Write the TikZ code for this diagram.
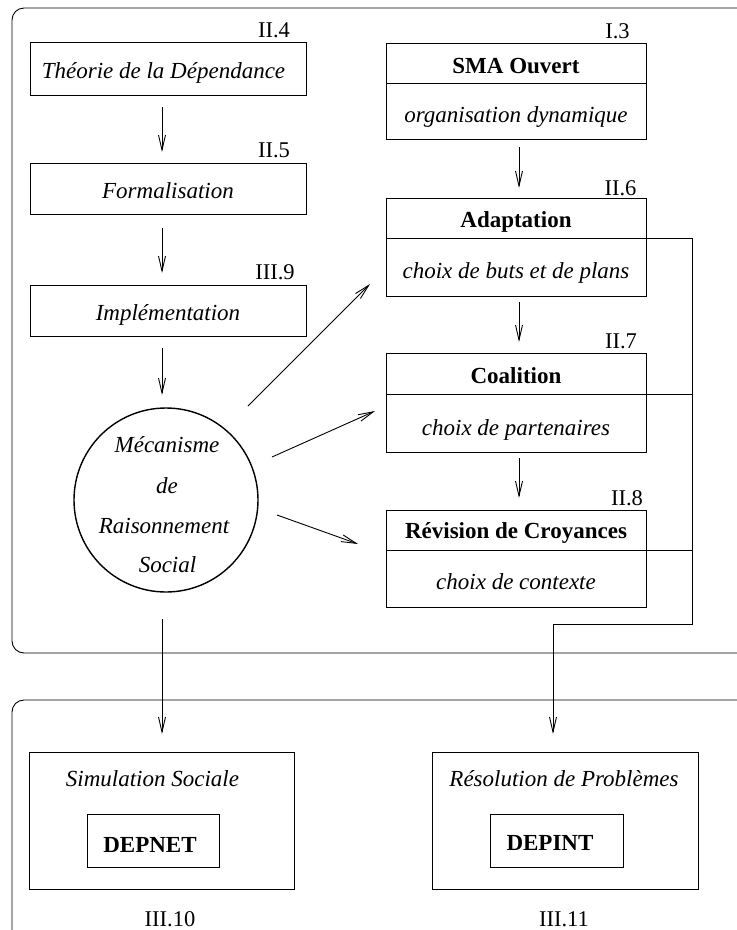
\documentclass[tikz,border=0pt]{standalone}
\usepackage{fontspec}
\setmainfont{Liberation Serif}
\usetikzlibrary{arrows.meta}
\begin{document}
\begin{tikzpicture}[x=1pt,y=-1pt,
  line width=0.9pt,
  arr/.style={-{Straight Barb[length=15pt,width=7pt,line width=0.9pt]}},
  box/.style={draw,rectangle,inner sep=0pt},
  txt/.style={font=\fontsize{23}{27}\selectfont\itshape,anchor=base,inner sep=0pt},
  hdr/.style={font=\fontsize{23}{27}\selectfont\bfseries,anchor=base,inner sep=0pt},
  num/.style={font=\fontsize{22.5}{26}\selectfont,anchor=base,inner sep=0pt},
]
\useasboundingbox (0,0) rectangle (737,930);

% frames (open on the right)
\draw[rounded corners=12pt] (737,8) -- (12,8) -- (12,653) -- (737,653);
\draw[rounded corners=12pt] (737,700) -- (12,700) -- (12,930);

% left column
\node[box,minimum width=276pt,minimum height=53pt] (theorie) at (168,68.5) {};
\node[txt] (ttheorie) at (163.5,78) {Théorie de la Dépendance};
\node[num] (n24) at (274,37) {II.4};

\node[box,minimum width=276pt,minimum height=51pt] (formal) at (168,188.5) {};
\node[txt] (tformal) at (168,198) {Formalisation};
\node[num] (n25) at (274,157) {II.5};

\node[box,minimum width=276pt,minimum height=51pt] (impl) at (168,310.5) {};
\node[txt] (timpl) at (168,320) {Implémentation};
\node[num] (n39) at (275,279) {III.9};

\node[draw,circle,line width=1.4pt,minimum size=184pt,inner sep=0pt] (mrs) at (166,500) {};
\node[txt] (m1) at (167,452) {Mécanisme};
\node[txt] (m2) at (167,493) {de};
\node[txt] (m3) at (164,533) {Raisonnement};
\node[txt] (m4) at (167.5,572) {Social};

% right column
\node[box,minimum width=260pt,minimum height=96pt] (sma) at (516,91) {};
\draw (386,83) -- (646,83);
\node[hdr] (tsma) at (516,73) {SMA Ouvert};
\node[txt] (dsma) at (516,122) {organisation dynamique};
\node[num] (n13) at (617.5,38) {I.3};

\node[box,minimum width=260pt,minimum height=98pt] (adapt) at (516,247) {};
\node[hdr] (tadapt) at (516,227) {Adaptation};
\node[txt] (dadapt) at (516,278) {choix de buts et de plans};
\node[num] (n26) at (620.5,195) {II.6};

\node[box,minimum width=260pt,minimum height=99pt] (coal) at (516,402.5) {};
\node[hdr] (tcoal) at (516,383) {Coalition};
\node[txt] (dcoal) at (516,435) {choix de partenaires};
\node[num] (n27) at (621,348) {II.7};

\node[box,minimum width=260pt,minimum height=97pt] (rev) at (516,558.5) {};
\node[hdr] (trev) at (516,538) {Révision de Croyances};
\node[txt] (drev) at (516,589) {choix de contexte};
\node[num] (n28) at (627,505) {II.8};

% dividers running out to the feedback line
\draw (386,238) -- (692,238);
\draw (386,394) -- (692,394);
\draw (386,550) -- (692,550);

% bottom applications
\node[box,minimum width=265pt,minimum height=137pt] (sim) at (161.5,820.5) {};
\node[txt] (tsim) at (152.5,786) {Simulation Sociale};
\node[box,minimum width=132pt,minimum height=53pt] (depnet) at (153,840.5) {};
\node[hdr] (tdepnet) at (150,852) {DEPNET};
\node[num] (n310) at (170,926) {III.10};

\node[box,minimum width=266pt,minimum height=137pt] (res) at (565,820.5) {};
\node[txt] (tres) at (564,786) {Résolution de Problèmes};
\node[box,minimum width=133pt,minimum height=53pt] (depint) at (556.5,840.5) {};
\node[hdr] (tdepint) at (550,850) {DEPINT};
\node[num] (n311) at (564,926) {III.11};

% connector end points
\coordinate (a1s) at (162,107);  \coordinate (a1e) at (162,152);
\coordinate (a2s) at (162,228);  \coordinate (a2e) at (162,273);
\coordinate (a3s) at (162,348);  \coordinate (a3e) at (162,395);
\coordinate (a4s) at (519,147);  \coordinate (a4e) at (519,188);
\coordinate (a5s) at (519,302);  \coordinate (a5e) at (519,342);
\coordinate (a6s) at (519,458);  \coordinate (a6e) at (519,498);
\coordinate (d1s) at (248,406);  \coordinate (d1e) at (370,284);
\coordinate (d2s) at (272,457);  \coordinate (d2e) at (375,411);
\coordinate (d3s) at (277,515);  \coordinate (d3e) at (358,544);
\coordinate (b1s) at (162,619);  \coordinate (b1e) at (162,734);
\coordinate (f1) at (692,238);   \coordinate (f2) at (692,624);
\coordinate (f3) at (553,624);   \coordinate (f4) at (553,734);

\draw[arr] (a1s) -- (a1e);
\draw[arr] (a2s) -- (a2e);
\draw[arr] (a3s) -- (a3e);
\draw[arr] (a4s) -- (a4e);
\draw[arr] (a5s) -- (a5e);
\draw[arr] (a6s) -- (a6e);
\draw[arr] (d1s) -- (d1e);
\draw[arr] (d2s) -- (d2e);
\draw[arr] (d3s) -- (d3e);
\draw[arr] (b1s) -- (b1e);
\draw[arr] (f1) -- (f2) -- (f3) -- (f4);
\end{tikzpicture}
\end{document}
